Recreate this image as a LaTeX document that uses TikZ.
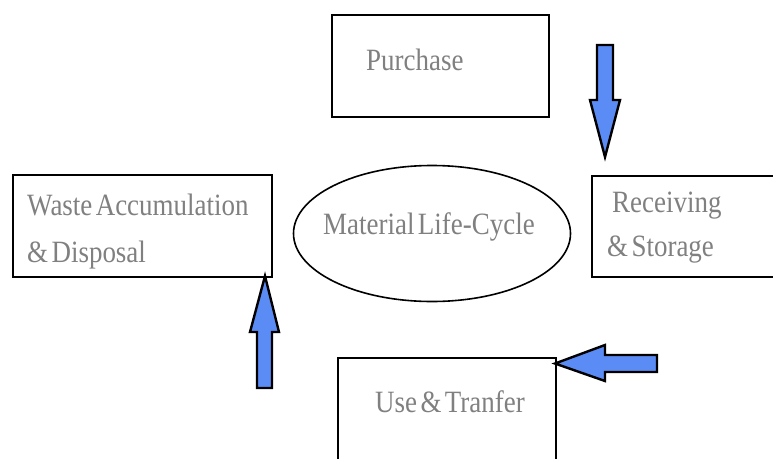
\documentclass[tikz,border=0pt]{standalone}
\usepackage{fontspec}
\setmainfont{Liberation Serif}[FakeStretch=0.87, WordSpace=0.5]
\usepackage{xcolor}
\usepackage{tikz}
\usetikzlibrary{positioning, shapes.geometric}
\definecolor{arrowblue}{RGB}{91,140,245}
\definecolor{textgray}{RGB}{128,128,128}
\tikzset{
    box/.style={
        draw, line width = 2pt,
        inner sep = 0pt
    },
    boxtext/.style = {
        anchor = base west, inner sep = 0pt,
        text = textgray,
        font = \fontsize{31}{36}\selectfont
    },
    blockarrow/.style = {draw, fill = arrowblue, line width = 2.4pt, line join = miter}
}
\begin{document}
\begin{tikzpicture}[x=1pt, y=-1pt]

                        \clip (0,0) rectangle (773,458);

                        % Purchase
                        \node[box, minimum width=217pt, minimum height=102pt] (purchase) at (440.5,66) {};
                        \node[boxtext] (purchasetxt) at (366,70) {Purchase};

                        % Receiving & Storage
                        \node[box, minimum width=198pt, minimum height=101pt] (receiving) at (691,226.5) {};
                        \node[boxtext] (receivingtxt) at (612,212) {Receiving};
                        \node[boxtext] (storagetxt) at (607,256) {\& Storage};

                        % Use & Tranfer
                        \node[box, minimum width=218pt, minimum height=122pt] (use) at (447,419) {};
                        \node[boxtext] (usetxt) at (375,412) {Use \& Tranfer};

                        % Waste Accumulation & Disposal
                        \node[box, minimum width=259pt, minimum height=102pt] (waste) at (142.5,226) {};
                        \node[boxtext] (wastetxt) at (27,215) {Waste Accumulation};
                        \node[boxtext] (disposaltxt) at (27,262) {\& Disposal};

                        % Life-cycle ellipse
                        \node[draw, ellipse, line width=1.6pt, inner sep=0pt,
                            minimum width=277pt, minimum height=136pt] (cycle) at (432,233.5) {};
                        \node[boxtext] (cycletxt) at (323,234) {Material Life-Cycle};

                        % Block arrows
                        \draw[blockarrow] (597,45) -- (613,45) -- (613,100) -- (620,100) -- (605,157) -- (590,100) -- (597,100) -- cycle;
                        \draw[blockarrow] (657,355) -- (657,372) -- (605,372) -- (605,381) -- (555,363.5) -- (605,345) -- (605,355) -- cycle;
                        \draw[blockarrow] (257,388) -- (272,388) -- (272,332) -- (279,332) -- (265,276) -- (250,332) -- (257,332) -- cycle;

                    \end{tikzpicture}
\end{document}
